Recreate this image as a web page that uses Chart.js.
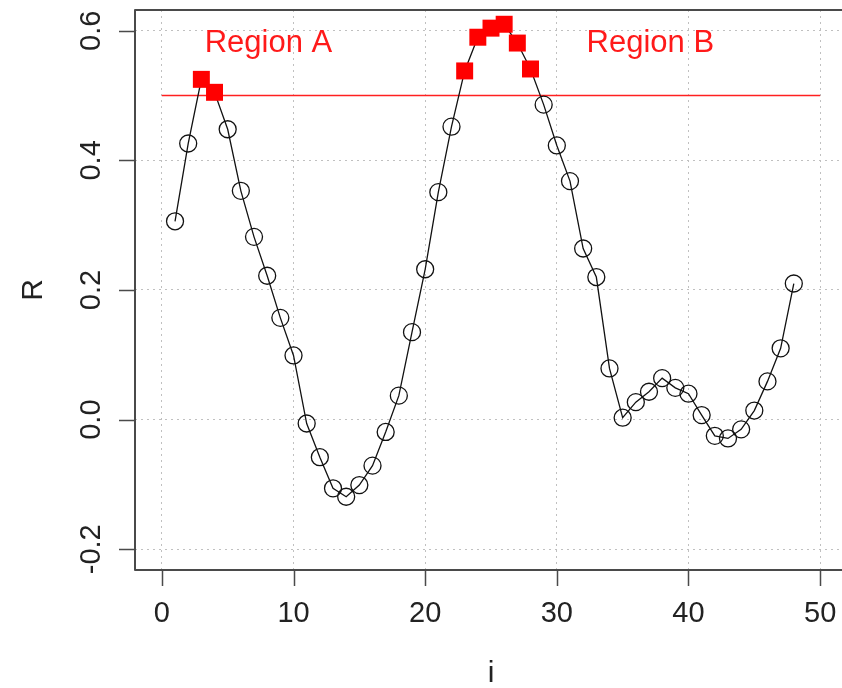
<!DOCTYPE html>
<html>
<head>
<meta charset="utf-8">
<script src="https://cdn.jsdelivr.net/npm/chart.js@4/dist/chart.umd.min.js"></script>
<style>
  html, body { margin: 0; padding: 0; background: #fff; overflow: hidden; }
  #wrap { width: 842px; height: 688px; overflow: hidden; position: relative; }
  #plot { display: block; position: absolute; left: 0; top: 0; }
</style>
</head>
<body>
<div id="wrap"><canvas id="plot" width="850" height="688"></canvas></div>
<script>
// R values for i = 1..48
const rValues = [
  0.306, 0.426, 0.525, 0.505, 0.448, 0.353, 0.282, 0.222, 0.157, 0.099,
  -0.006, -0.058, -0.106, -0.119, -0.101, -0.071, -0.019, 0.037, 0.135, 0.232,
  0.351, 0.452, 0.538, 0.590, 0.604, 0.610, 0.581, 0.541, 0.486, 0.423,
  0.368, 0.264, 0.220, 0.079, 0.003, 0.027, 0.043, 0.064, 0.049, 0.040,
  0.007, -0.025, -0.029, -0.015, 0.014, 0.059, 0.110, 0.210
];
// indices (i) above the threshold
const regionA = [3, 4];
const regionB = [23, 24, 25, 26, 27, 28];
const threshold = 0.5;
const xTicks = [0, 10, 20, 30, 40, 50];
const yTicks = [-0.2, 0.0, 0.2, 0.4, 0.6];
const yTickLabels = ["-0.2", "0.0", "0.2", "0.4", "0.6"];
const regionLabels = [
  { text: "Region A", x: 8.1, y: 0.58 },
  { text: "Region B", x: 37.1, y: 0.58 },
];

const FONT = '"Liberation Sans", Arial, Helvetica, sans-serif';
const highlighted = regionA.concat(regionB);

const seriesPts = rValues.map((v, k) => ({ x: k + 1, y: v }));
const redPts = highlighted.map((i) => ({ x: i, y: rValues[i - 1] }));

function label(ctx, text, x, y, size, rot) {
  ctx.save();
  ctx.translate(x, y);
  if (rot) ctx.rotate(rot);
  ctx.font = size + "px " + FONT;
  ctx.fillText(text, 0, 0);
  ctx.restore();
}

// box, ticks, labels drawn in base-graphics style
const rAxes = {
  id: "rAxes",
  afterDraw(chart) {
    const { ctx, chartArea: a, scales } = chart;
    const xs = scales.x, ys = scales.y;
    ctx.save();
    ctx.strokeStyle = "#4a4a4a";
    ctx.lineWidth = 2;
    ctx.lineJoin = "round";
    ctx.strokeRect(a.left, a.top, a.right - a.left, a.bottom - a.top);

    ctx.lineWidth = 1.5;
    ctx.beginPath();
    xTicks.forEach((t) => {
      const px = Math.round(xs.getPixelForValue(t)) + 0.5;
      ctx.moveTo(px, a.bottom);
      ctx.lineTo(px, a.bottom + 16);
    });
    yTicks.forEach((t) => {
      const py = Math.round(ys.getPixelForValue(t)) + 0.5;
      ctx.moveTo(a.left, py);
      ctx.lineTo(a.left - 16, py);
    });
    ctx.stroke();

    ctx.fillStyle = "#222";
    ctx.textAlign = "center";
    ctx.textBaseline = "middle";
    xTicks.forEach((t) => {
      label(ctx, String(t), xs.getPixelForValue(t), 614, 29);
    });
    yTicks.forEach((t, k) => {
      label(ctx, yTickLabels[k], 92, ys.getPixelForValue(t), 29, -Math.PI / 2);
    });

    // axis titles
    label(ctx, "i", 491, 674, 30);
    label(ctx, "R", 34, (a.top + a.bottom) / 2, 30, -Math.PI / 2);

    ctx.fillStyle = "#ff1a1a";
    regionLabels.forEach((r) => {
      label(ctx, r.text, xs.getPixelForValue(r.x), ys.getPixelForValue(r.y), 31);
    });
    ctx.restore();
  },
};

const gridStyle = {
  color: "#c0c0c0",
  lineWidth: 1,
  drawTicks: false,
};

new Chart(document.getElementById("plot"), {
  type: "scatter",
  data: {
    datasets: [
      {
        data: redPts,
        pointStyle: "rect",
        pointRadius: 12,
        pointHoverRadius: 12,
        pointBackgroundColor: "#ff0000",
        pointBorderWidth: 0,
        showLine: false,
        order: 0,
      },
      {
        data: seriesPts,
        showLine: true,
        borderColor: "#111",
        borderWidth: 1.3,
        pointStyle: "circle",
        pointRadius: (c) => (highlighted.includes(c.dataIndex + 1) ? 0 : 8.5),
        pointBorderColor: "#111",
        pointBackgroundColor: "rgba(0,0,0,0)",
        pointBorderWidth: 1.3,
        order: 1,
      },
      {
        data: [{ x: 0, y: threshold }, { x: 50, y: threshold }],
        showLine: true,
        borderColor: "#ff2020",
        borderWidth: 1.6,
        pointRadius: 0,
        order: 2,
      },
    ],
  },
  options: {
    responsive: false,
    animation: false,
    events: [],
    layout: {
      autoPadding: false,
      padding: { left: 135, top: 10, right: 3, bottom: 118 },
    },
    plugins: { legend: { display: false }, tooltip: { enabled: false } },
    scales: {
      x: {
        type: "linear",
        min: -2.04,
        max: 52.04,
        afterBuildTicks: (s) => { s.ticks = xTicks.map((v) => ({ value: v })); },
        ticks: { display: false },
        grid: gridStyle,
        border: { display: false, dash: [2, 4] },
      },
      y: {
        type: "linear",
        min: -0.232,
        max: 0.632,
        afterBuildTicks: (s) => { s.ticks = yTicks.map((v) => ({ value: v })); },
        ticks: { display: false },
        grid: gridStyle,
        border: { display: false, dash: [2, 4] },
      },
    },
  },
  plugins: [rAxes],
});
</script>
</body>
</html>
